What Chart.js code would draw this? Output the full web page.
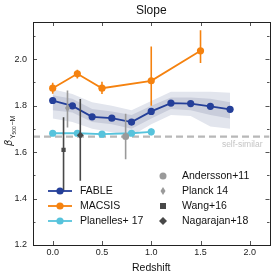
<!DOCTYPE html>
<html>
<head>
<meta charset="utf-8">
<script src="https://cdn.jsdelivr.net/npm/chart.js@4.4.1/dist/chart.umd.min.js"></script>
<style>
  html, body { margin: 0; padding: 0; background: #fff; }
</style>
</head>
<body>
<canvas id="chart" width="274" height="274"></canvas>
<script>
// FABLE (simulation, median + 1/2 sigma bands)
const fableZ = [0.0, 0.2, 0.4, 0.6, 0.8, 1.0, 1.2, 1.4, 1.6, 1.8];
const fableSlope = [1.822, 1.799, 1.752, 1.746, 1.729, 1.775, 1.811, 1.809, 1.797, 1.784];
const fableInnerLo = [1.78, 1.77, 1.73, 1.72, 1.70, 1.745, 1.785, 1.78, 1.76, 1.745];
const fableInnerHi = [1.845, 1.83, 1.785, 1.775, 1.76, 1.80, 1.835, 1.835, 1.83, 1.815];
const fableOuterLo = [1.745, 1.73, 1.70, 1.685, 1.67, 1.72, 1.76, 1.755, 1.71, 1.70];
const fableOuterHi = [1.87, 1.85, 1.815, 1.80, 1.78, 1.82, 1.86, 1.86, 1.86, 1.855];

// MACSIS
const macsisZ = [0.0, 0.25, 0.5, 1.0, 1.5];
const macsisSlope = [1.875, 1.937, 1.875, 1.907, 2.036];
const macsisLo = [1.851, 1.917, 1.85, 1.80, 1.984];
const macsisHi = [1.898, 1.954, 1.903, 2.055, 2.124];

// Planelles+ 17
const planZ = [0.0, 0.25, 0.5, 0.8, 1.0];
const planSlope = [1.681, 1.681, 1.677, 1.681, 1.687];
const planLo = [1.673, 1.673, 1.671, 1.673, 1.673];
const planHi = [1.689, 1.689, 1.683, 1.689, 1.701];

// observations: Andersson+11, Planck 14, Wang+16, Nagarajan+18
const obsNames = ['Andersson+11', 'Planck 14', 'Wang+16', 'Nagarajan+18'];
const obsZ = [0.74, 0.15, 0.11, 0.28];
const obsSlope = [1.667, 1.79, 1.61, 1.672];
const obsLo = [1.569, 1.706, 1.43, 1.477];
const obsHi = [1.765, 1.865, 1.75, 1.828];

const selfSimilar = 5 / 3;
const xTicks = [0.0, 0.5, 1.0, 1.5, 2.0];
const yTicks = [1.2, 1.4, 1.6, 1.8, 2.0];
const yMinor = [1.3, 1.5, 1.7, 1.9, 2.1];

const FONT = "'Liberation Sans', Arial, sans-serif";
const BLUE = '#243f99';
const ORANGE = '#f5820f';
const CYAN = '#56c3dc';
const obsColors = ['#9a9a9a', '#9a9a9a', '#484848', '#484848'];

// thin diamond marker (Planck)
function thinDiamond(color, w, h) {
  const c = document.createElement('canvas');
  c.width = w; c.height = h;
  const g = c.getContext('2d');
  g.fillStyle = color;
  g.beginPath();
  g.moveTo(w / 2, 0); g.lineTo(w, h / 2); g.lineTo(w / 2, h); g.lineTo(0, h / 2);
  g.closePath(); g.fill();
  return c;
}
const planckMarker = thinDiamond(obsColors[1], 5, 8);
const obsStyles = ['circle', planckMarker, 'rect', 'rectRot'];
const obsRadius = [3.5, 4, 3, 3.5];

const pts = (xs, ys) => xs.map((x, i) => ({ x, y: ys[i] }));
// vertical error bars, separated by gaps
const bars = (xs, lo, hi) => xs.flatMap((x, i) => [{ x, y: lo[i] }, { x, y: hi[i] }, { x, y: null }]);

const datasets = [];

// observations on top
obsNames.forEach((name, i) => {
  datasets.push({
    data: [{ x: obsZ[i], y: obsSlope[i] }],
    showLine: false, pointStyle: obsStyles[i], pointRadius: obsRadius[i],
    backgroundColor: obsColors[i], borderColor: obsColors[i], borderWidth: 0, order: 0
  });
  datasets.push({
    data: bars([obsZ[i]], [obsLo[i]], [obsHi[i]]),
    borderColor: obsColors[i], borderWidth: 1.6, pointRadius: 0, spanGaps: false, order: 0.5
  });
});

const series = [
  { z: macsisZ, y: macsisSlope, lo: macsisLo, hi: macsisHi, color: ORANGE },
  { z: planZ, y: planSlope, lo: planLo, hi: planHi, color: CYAN },
  { z: fableZ, y: fableSlope, lo: null, hi: null, color: BLUE }
];
series.forEach(s => {
  datasets.push({
    data: pts(s.z, s.y), borderColor: s.color, backgroundColor: s.color,
    borderWidth: 1.8, pointRadius: 3.6, pointBorderWidth: 0, order: 1
  });
  if (s.lo) {
    datasets.push({
      data: bars(s.z, s.lo, s.hi), borderColor: s.color, borderWidth: 1.6,
      pointRadius: 0, spanGaps: false, order: 1.5
    });
  }
});

// self-similar reference
datasets.push({
  data: [{ x: -0.2, y: selfSimilar }, { x: 2.2, y: selfSimilar }],
  borderColor: '#b8b8b8', borderWidth: 2.2, borderDash: [7, 4], pointRadius: 0, order: 8
});

// bands
datasets.push({ data: pts(fableZ, fableInnerLo), borderWidth: 0, borderColor: 'rgba(0,0,0,0)', pointRadius: 0, fill: false, order: 9 });
datasets.push({ data: pts(fableZ, fableInnerHi), borderWidth: 0, borderColor: 'rgba(0,0,0,0)', pointRadius: 0, fill: '-1', backgroundColor: '#c9cddb', order: 9 });
datasets.push({ data: pts(fableZ, fableOuterLo), borderWidth: 0, borderColor: 'rgba(0,0,0,0)', pointRadius: 0, fill: false, order: 10 });
datasets.push({ data: pts(fableZ, fableOuterHi), borderWidth: 0, borderColor: 'rgba(0,0,0,0)', pointRadius: 0, fill: '-1', backgroundColor: '#e2e5ed', order: 10 });

const frame = {
  id: 'frame',
  afterDraw(chart) {
    const { ctx, chartArea: a, scales: { x, y } } = chart;
    ctx.save();
    // ticks on all sides, pointing in
    ctx.strokeStyle = '#555';
    ctx.lineWidth = 1;
    ctx.beginPath();
    xTicks.forEach(v => {
      const px = Math.round(x.getPixelForValue(v)) + 0.5;
      ctx.moveTo(px, a.bottom); ctx.lineTo(px, a.bottom - 4);
      ctx.moveTo(px, a.top); ctx.lineTo(px, a.top + 4);
    });
    yTicks.concat(yMinor).forEach(v => {
      const py = Math.round(y.getPixelForValue(v)) + 0.5;
      const len = yTicks.includes(v) ? 4 : 2.5;
      ctx.moveTo(a.left, py); ctx.lineTo(a.left + len, py);
      ctx.moveTo(a.right, py); ctx.lineTo(a.right - len, py);
    });
    ctx.stroke();
    ctx.strokeStyle = '#222';
    ctx.strokeRect(Math.round(a.left) + 0.5, Math.round(a.top) + 0.5,
      Math.round(a.right - a.left), Math.round(a.bottom - a.top));

    // title
    ctx.fillStyle = '#111';
    ctx.textAlign = 'center';
    ctx.textBaseline = 'middle';
    ctx.font = '12px ' + FONT;
    ctx.fillText('Slope', (a.left + a.right) / 2, 11);

    // self-similar label
    ctx.fillStyle = '#c4c4c4';
    ctx.textAlign = 'right';
    ctx.font = '8.5px ' + FONT;
    ctx.fillText('self-similar', a.right - 7, y.getPixelForValue(selfSimilar) + 8);

    // y axis label: beta_{Y_500 - M}
    ctx.save();
    ctx.translate(12, 146);
    ctx.rotate(-Math.PI / 2);
    ctx.textAlign = 'left';
    ctx.textBaseline = 'alphabetic';
    ctx.fillStyle = '#222';
    let cx = 0;
    ctx.font = 'italic 10px DejaVu Sans, sans-serif';
    ctx.fillText('\u03b2', cx, 0); cx += ctx.measureText('\u03b2').width + 0.5;
    ctx.font = '7px ' + FONT;
    ctx.fillText('Y', cx, 2.5); cx += ctx.measureText('Y').width;
    ctx.font = '5px ' + FONT;
    ctx.fillText('500', cx, 4); cx += ctx.measureText('500').width + 0.5;
    ctx.font = '7px ' + FONT;
    ctx.fillText('\u2212M', cx, 2.5);
    ctx.restore();

    // legend
    ctx.font = '10.5px ' + FONT;
    ctx.textAlign = 'left';
    ctx.textBaseline = 'middle';
    const left = [['FABLE', BLUE], ['MACSIS', ORANGE], ['Planelles+ 17', CYAN]];
    left.forEach(([label, col], i) => {
      const ly = 191 + i * 15;
      ctx.strokeStyle = col; ctx.lineWidth = 1.8;
      ctx.beginPath(); ctx.moveTo(48, ly); ctx.lineTo(72, ly); ctx.stroke();
      ctx.fillStyle = col;
      ctx.beginPath(); ctx.arc(60, ly, 3.6, 0, Math.PI * 2); ctx.fill();
      ctx.fillStyle = '#111';
      ctx.fillText(label, 80, ly);
    });
    obsNames.forEach((label, i) => {
      const ly = 176 + i * 15;
      const mx = 163;
      ctx.fillStyle = obsColors[i];
      ctx.beginPath();
      if (i === 0) ctx.arc(mx, ly, 3.5, 0, Math.PI * 2);
      else if (i === 1) { ctx.moveTo(mx, ly - 4); ctx.lineTo(mx + 2.5, ly); ctx.lineTo(mx, ly + 4); ctx.lineTo(mx - 2.5, ly); }
      else if (i === 2) ctx.rect(mx - 3, ly - 3, 6, 6);
      else { ctx.moveTo(mx, ly - 4); ctx.lineTo(mx + 4, ly); ctx.lineTo(mx, ly + 4); ctx.lineTo(mx - 4, ly); }
      ctx.closePath(); ctx.fill();
      ctx.fillStyle = '#111';
      ctx.fillText(label, 182, ly);
    });
    ctx.restore();
  }
};

new Chart(document.getElementById('chart'), {
  type: 'line',
  data: { datasets },
  options: {
    responsive: false,
    animation: false,
    layout: { padding: { top: 22, right: 4.5, bottom: 0, left: 0 } },
    plugins: { legend: { display: false }, tooltip: { enabled: false } },
    scales: {
      x: {
        type: 'linear', min: -0.2, max: 2.2,
        afterBuildTicks: s => { s.ticks = xTicks.map(v => ({ value: v })); },
        afterFit: s => { s.height = 29; },
        grid: { display: false, drawTicks: false },
        border: { display: false },
        ticks: { callback: v => v.toFixed(1), color: '#222', font: { size: 9, family: FONT }, padding: 2, maxRotation: 0 },
        title: { display: true, text: 'Redshift', color: '#111', font: { size: 10.5, family: FONT }, padding: { top: 1, bottom: 0 } }
      },
      y: {
        type: 'linear', min: 1.2, max: 2.16,
        afterBuildTicks: s => { s.ticks = yTicks.map(v => ({ value: v })); },
        afterFit: s => { s.width = 33; },
        grid: { display: false, drawTicks: false },
        border: { display: false },
        ticks: { callback: v => v.toFixed(1), color: '#222', font: { size: 9, family: FONT }, padding: 6 }
      }
    }
  },
  plugins: [frame]
});
</script>
</body>
</html>
